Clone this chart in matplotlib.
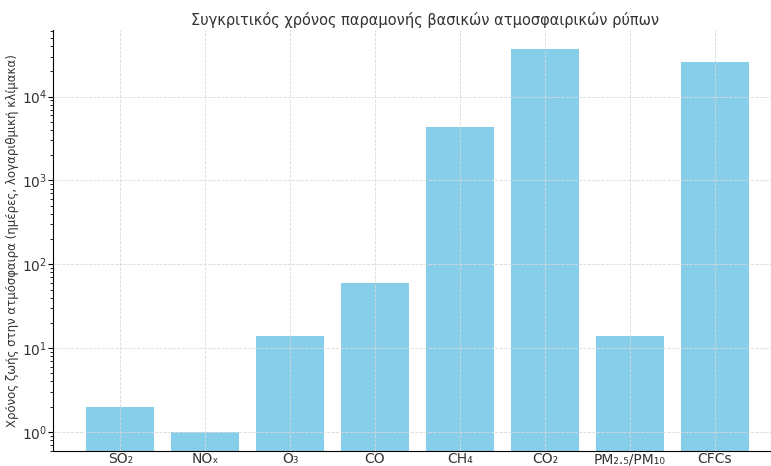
import matplotlib.pyplot as plt

# Ρύποι και χρόνος παραμονής (ημέρες)
pollutants = ['SO₂', 'NOₓ', 'O₃', 'CO', 'CH₄', 'CO₂', 'PM₂.₅/PM₁₀', 'CFCs']
lifetime_days = [2, 1, 14, 60, 4380, 36500, 14, 25550]

fig = plt.figure(figsize=(7.71, 4.66), dpi=100)
ax = fig.add_axes([0.069, 0.032, 0.945, 0.903])

ax.bar(pollutants, lifetime_days, color='skyblue')
ax.set_yscale('log')

ax.set_title('Συγκριτικός χρόνος παραμονής βασικών ατμοσφαιρικών ρύπων',
             fontsize=10.5, pad=4, color='#333333', x=0.51)
ax.set_ylabel('Χρόνος ζωής στην ατμόσφαιρα (ημέρες, λογαριθμική κλίμακα)',
              fontsize=8.5, labelpad=2, color='#333333')

ax.grid(True, which='major', linestyle='--', linewidth=0.6, color='#d9d9d9')
ax.set_axisbelow(False)
ax.spines['top'].set_visible(False)
ax.spines['right'].set_visible(False)
ax.tick_params(axis='x', labelsize=10, length=0, pad=1, labelcolor='#333333')
ax.tick_params(axis='y', labelsize=10, pad=1, labelcolor='#333333')

fig.savefig('out.png')
